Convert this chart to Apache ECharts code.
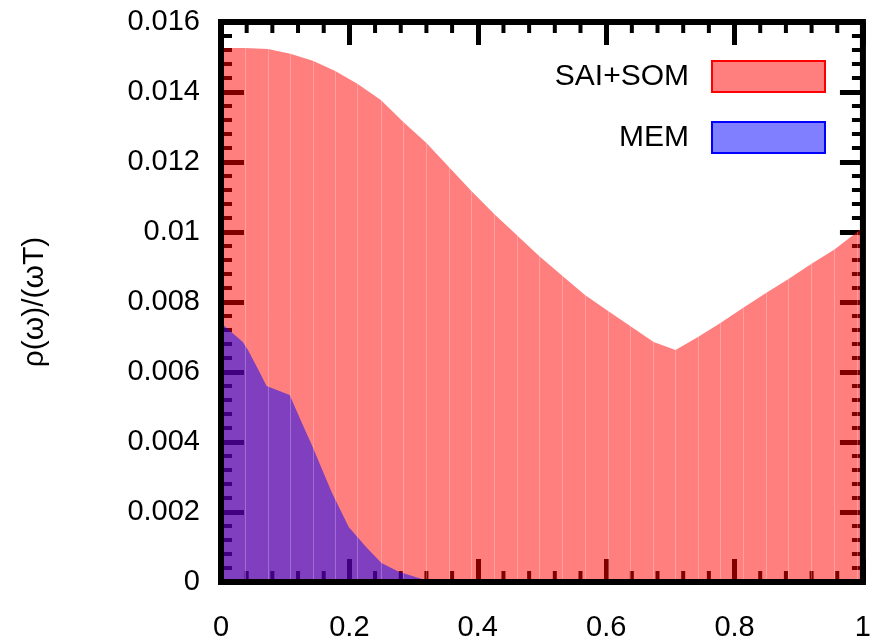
<!DOCTYPE html>
<html>
<head>
<meta charset="utf-8">
<script src="https://cdn.jsdelivr.net/npm/echarts@6/dist/echarts.min.js"></script>
<style>
  html, body { margin: 0; padding: 0; background: #fff; }
  #chart { width: 874px; height: 642px; }
</style>
</head>
<body>
<div id="chart"></div>
<script>
// Spectral function rho(omega)/(omega T) from two reconstruction methods
const seriesNames = ['SAI+SOM', 'MEM'];

// SAI+SOM reconstruction
const saiX = [0, 0.037, 0.073, 0.108, 0.143, 0.178, 0.213, 0.249, 0.284, 0.32,
              0.355, 0.39, 0.426, 0.461, 0.496, 0.532, 0.567, 0.603, 0.638, 0.674,
              0.708, 0.743, 0.778, 0.813, 0.849, 0.884, 0.92, 0.955, 0.991, 1.0];
const saiY = [0.01526, 0.01526, 0.01523, 0.01509, 0.01489, 0.0146, 0.01423, 0.01377, 0.01314, 0.01254,
              0.01186, 0.01117, 0.01051, 0.00991, 0.00931, 0.00874, 0.0082, 0.00774, 0.00731, 0.00686,
              0.00663, 0.007, 0.0074, 0.00783, 0.00826, 0.00866, 0.00909, 0.00949, 0.01, 0.01014];

// MEM reconstruction
const memX = [0, 0.034, 0.042, 0.057, 0.071, 0.107, 0.124, 0.142, 0.173, 0.199,
              0.226, 0.25, 0.277, 0.303, 0.32, 0.338, 1.0];
const memY = [0.0074, 0.00686, 0.00663, 0.00611, 0.0056, 0.00534, 0.00463, 0.00389, 0.00254, 0.00157,
              0.001, 0.00054, 0.00029, 0.00014, 0.00005, 0, 0];

// Axis ticks (major labels) and minor subdivisions per major step
const xTicks = [0, 0.2, 0.4, 0.6, 0.8, 1];
const yTicks = [0, 0.002, 0.004, 0.006, 0.008, 0.01, 0.012, 0.014, 0.016];
const minorPerMajor = 5;

const FONT = 'Liberation Sans';

const pairs = (xs, ys) => xs.map((x, i) => [x, ys[i]]);

// minor tick values between the major ticks
function minorValues(ticks) {
  const out = [];
  for (let i = 0; i < ticks.length - 1; i++) {
    const step = (ticks[i + 1] - ticks[i]) / minorPerMajor;
    for (let k = 1; k < minorPerMajor; k++) out.push(ticks[i] + k * step);
  }
  return out;
}
const X_DIM = 0, Y_DIM = 1;
const minorData = minorValues(xTicks).map(v => [X_DIM, v])
  .concat(minorValues(yTicks).map(v => [Y_DIM, v]));

const xMin = xTicks[0], xMax = xTicks[xTicks.length - 1];
const yMin = yTicks[0], yMax = yTicks[yTicks.length - 1];
const MINOR_LEN = 11;

// short inward ticks on all four sides of the frame
function renderMinorTick(params, api) {
  const dim = api.value(0);
  const v = api.value(1);
  const style = { stroke: '#000', lineWidth: 4 };
  if (dim === X_DIM) {
    const b = api.coord([v, yMin]);
    const t = api.coord([v, yMax]);
    return {
      type: 'group',
      children: [
        { type: 'line', shape: { x1: b[0], y1: b[1], x2: b[0], y2: b[1] - MINOR_LEN }, style: style },
        { type: 'line', shape: { x1: t[0], y1: t[1], x2: t[0], y2: t[1] + MINOR_LEN }, style: style }
      ]
    };
  }
  const l = api.coord([xMin, v]);
  const r = api.coord([xMax, v]);
  return {
    type: 'group',
    children: [
      { type: 'line', shape: { x1: l[0], y1: l[1], x2: l[0] + MINOR_LEN, y2: l[1] }, style: style },
      { type: 'line', shape: { x1: r[0], y1: r[1], x2: r[0] - MINOR_LEN, y2: r[1] }, style: style }
    ]
  };
}

// major tick axis (ticks point into the plot)
function tickAxis(ticks, position, opts) {
  const axis = {
    type: 'value',
    position: position,
    min: ticks[0],
    max: ticks[ticks.length - 1],
    interval: ticks[1] - ticks[0],
    axisLine: { show: false, onZero: false },
    splitLine: { show: false },
    axisTick: { show: true, inside: true, length: 23, lineStyle: { color: '#000', width: 5 } },
    axisLabel: opts.label
      ? Object.assign({ show: true, color: '#000', fontFamily: FONT, fontSize: 29 }, opts.label)
      : { show: false }
  };
  return Object.assign(axis, opts.extra || {});
}

// thin seams at every sample of the SAI+SOM curve
const seams = saiX.slice(1, -1).map((x, i) => [
  { coord: [x, 0] },
  { coord: [x, saiY[i + 1]] }
]);

const option = {
  animation: false,
  backgroundColor: '#fff',
  grid: {
    left: 221, right: 6, top: 22, bottom: 60,
    show: true, z: 10,
    backgroundColor: 'transparent',
    borderColor: '#000', borderWidth: 6
  },
  legend: {
    right: 48, top: 60, padding: 0,
    orient: 'vertical', align: 'right',
    itemWidth: 113, itemHeight: 31, itemGap: 28,
    icon: 'rect',
    textStyle: { color: '#000', fontFamily: FONT, fontSize: 30, padding: [0, 18, 0, 0] },
    data: [
      { name: seriesNames[0], itemStyle: { color: 'rgba(255,0,0,0.5)', borderColor: '#ff0000', borderWidth: 2 } },
      { name: seriesNames[1], itemStyle: { color: 'rgba(0,0,255,0.5)', borderColor: '#0000ff', borderWidth: 2 } }
    ]
  },
  xAxis: [
    tickAxis(xTicks, 'bottom', { label: { margin: 31 } }),
    tickAxis(xTicks, 'top', {})
  ],
  yAxis: [
    tickAxis(yTicks, 'left', {
      label: { margin: 21 },
      extra: {
        name: 'ρ(ω)/(ωT)',
        nameLocation: 'middle',
        nameGap: 171,
        nameTextStyle: { color: '#000', fontFamily: FONT, fontSize: 30 }
      }
    }),
    tickAxis(yTicks, 'right', {})
  ],
  series: [
    {
      name: 'minor ticks',
      type: 'custom',
      xAxisIndex: 0, yAxisIndex: 0,
      z: 1,
      silent: true,
      clip: false,
      renderItem: renderMinorTick,
      data: minorData
    },
    {
      name: seriesNames[0],
      type: 'line',
      xAxisIndex: 0, yAxisIndex: 0,
      z: 2,
      data: pairs(saiX, saiY),
      showSymbol: false,
      lineStyle: { width: 0 },
      itemStyle: { color: 'rgba(255,0,0,0.5)' },
      areaStyle: { color: 'rgba(255,0,0,0.5)', opacity: 1 },
      markLine: {
        silent: true,
        symbol: 'none',
        label: { show: false },
        lineStyle: { color: 'rgba(255,255,255,0.25)', width: 1, type: 'solid' },
        data: seams
      }
    },
    {
      name: seriesNames[1],
      type: 'line',
      xAxisIndex: 0, yAxisIndex: 0,
      z: 3,
      data: pairs(memX, memY),
      showSymbol: false,
      lineStyle: { width: 0 },
      itemStyle: { color: 'rgba(0,0,255,0.5)' },
      areaStyle: { color: 'rgba(0,0,255,0.5)', opacity: 1 }
    }
  ]
};

const chart = echarts.init(document.getElementById('chart'), null, { renderer: 'canvas' });
chart.setOption(option);
</script>
</body>
</html>
